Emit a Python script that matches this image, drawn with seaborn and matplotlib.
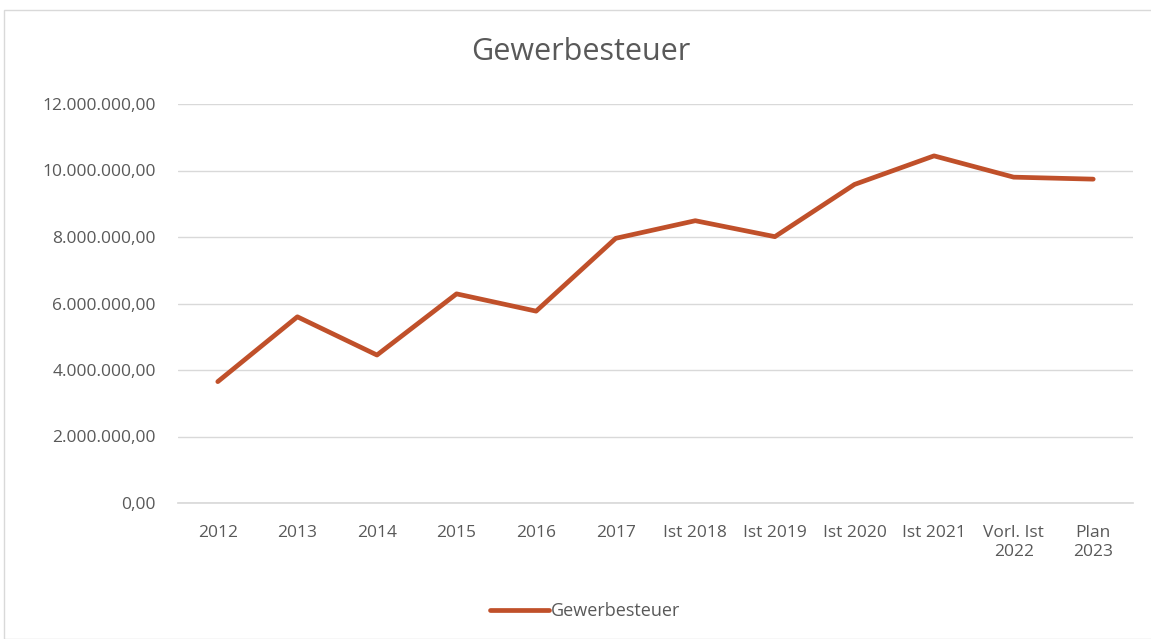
import matplotlib
matplotlib.use("Agg")
import matplotlib.pyplot as plt
import seaborn as sns
import pandas as pd
from matplotlib.ticker import FuncFormatter, MultipleLocator
from matplotlib.patches import Rectangle

categories = ["2012", "2013", "2014", "2015", "2016", "2017", "Ist 2018", "Ist 2019",
              "Ist 2020", "Ist 2021", "Vorl. Ist\n2022", "Plan\n2023"]
gewerbesteuer = [3650000, 5600000, 4450000, 6290000, 5770000, 7960000, 8490000, 8010000,
                 9580000, 10440000, 9800000, 9740000]
title = "Gewerbesteuer"
series_name = "Gewerbesteuer"

sns.set_theme(style="white")
plt.rcParams['font.family'] = ['Open Sans', 'DejaVu Sans']

df = pd.DataFrame({"Kategorie": categories, "Wert": gewerbesteuer})

fig = plt.figure(figsize=(11.51, 6.39), dpi=100)
W, H = 1151, 639
ax = fig.add_axes([178 / W, 1 - 503 / H, (1133 - 178) / W, (503 - 104) / H])

sns.lineplot(data=df, x="Kategorie", y="Wert", ax=ax, sort=False, color="#C0502A",
             linewidth=3.4, label=series_name)

ax.set_xlim(-0.5, len(categories) - 0.5)
ax.set_ylim(0, 12000000)
ax.yaxis.set_major_locator(MultipleLocator(2000000))

def de_fmt(v, pos):
    s = f"{v:,.2f}"
    return s.replace(",", "X").replace(".", ",").replace("X", ".")

ax.yaxis.set_major_formatter(FuncFormatter(de_fmt))
ax.grid(axis="y", color="#D9D9D9", linewidth=1.0)
ax.grid(axis="x", visible=False)
for s in ax.spines.values():
    s.set_visible(False)
ax.spines["bottom"].set_visible(True)
ax.spines["bottom"].set_color("#D9D9D9")
ax.set_xlabel("")
ax.set_ylabel("")
ax.tick_params(axis="both", length=0, colors="#595959", labelsize=12.5)
ax.tick_params(axis="x", pad=16)
ax.tick_params(axis="y", pad=16)
for lab in ax.get_xticklabels():
    lab.set_multialignment("center")

fig.text(581 / W, 1 - 52 / H, title, ha="center", va="center", fontsize=22, color="#595959")

ax.legend_.remove()
leg = fig.legend(loc="center", bbox_to_anchor=(585 / W, 1 - 611 / H), frameon=False,
                 fontsize=13, handlelength=3.3, handletextpad=0.1, labelcolor="#595959")

fig.patches.append(Rectangle((4 / W, 0), 1.2, 1 - 10 / H, transform=fig.transFigure,
                             fill=False, edgecolor="#D9D9D9", linewidth=1.0))

fig.savefig("out.png", dpi=100, facecolor="white")
